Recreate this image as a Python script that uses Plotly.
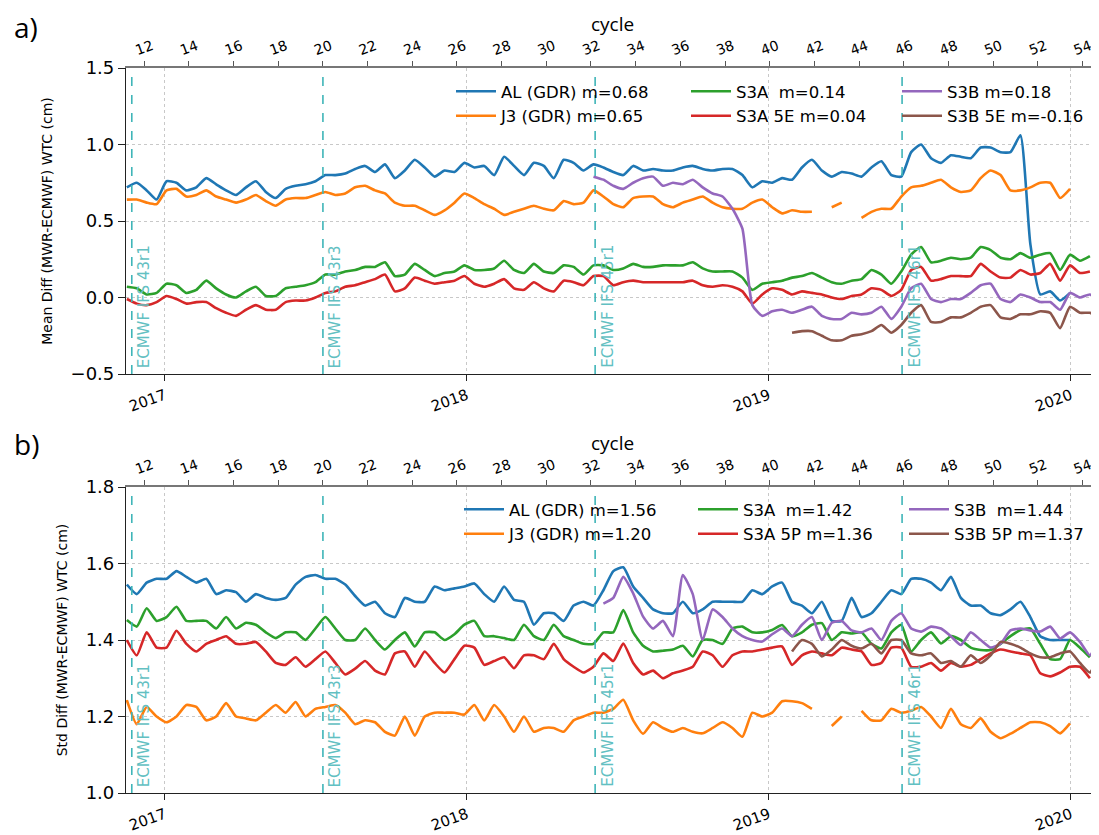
import pandas as pd
import plotly.graph_objects as go

# ---------------- data ----------------
dates = pd.date_range("2016-11-16", periods=99, freq="12D")
N = None

# Panel a: mean difference (cm)
al_mean = [0.72, 0.75, 0.70, 0.64, 0.76, 0.75, 0.70, 0.72, 0.78, 0.74,
           0.70, 0.67, 0.72, 0.76, 0.69, 0.65, 0.71, 0.73, 0.74, 0.76,
           0.80, 0.80, 0.81, 0.84, 0.86, 0.82, 0.87, 0.78, 0.83, 0.90,
           0.85, 0.79, 0.83, 0.82, 0.88, 0.85, 0.86, 0.80, 0.92, 0.86,
           0.80, 0.88, 0.86, 0.78, 0.90, 0.88, 0.83, 0.87, 0.85, 0.82,
           0.80, 0.86, 0.83, 0.84, 0.83, 0.83, 0.85, 0.86, 0.84, 0.83,
           0.84, 0.84, 0.80, 0.72, 0.76, 0.75, 0.78, 0.77, 0.85, 0.90,
           0.83, 0.79, 0.82, 0.81, 0.79, 0.85, 0.89, 0.80, 0.79, 0.95,
           1.00, 0.91, 0.88, 0.93, 0.92, 0.91, 0.98, 0.98, 0.95, 0.95,
           1.06, 0.35, 0.02, 0.04, -0.02, 0.03, N, N, N]
j3_mean = [0.64, 0.64, 0.62, 0.61, 0.70, 0.71, 0.66, 0.67, 0.70, 0.66,
           0.64, 0.62, 0.64, 0.67, 0.63, 0.60, 0.64, 0.65, 0.65, 0.67,
           0.69, 0.67, 0.68, 0.72, 0.73, 0.70, 0.68, 0.62, 0.60, 0.60,
           0.57, 0.54, 0.57, 0.62, 0.68, 0.65, 0.61, 0.58, 0.54, 0.56,
           0.58, 0.60, 0.58, 0.57, 0.63, 0.61, 0.62, 0.70, 0.66, 0.61,
           0.59, 0.65, 0.66, 0.66, 0.61, 0.59, 0.62, 0.64, 0.66, 0.62,
           0.59, 0.58, 0.58, 0.62, 0.64, 0.59, 0.55, 0.57, 0.56, 0.56,
           N, 0.59, 0.62, N, 0.52, 0.56, 0.58, 0.58, 0.66, 0.72,
           0.73, 0.75, 0.77, 0.72, 0.69, 0.70, 0.78, 0.83, 0.80, 0.70,
           0.70, 0.72, 0.75, 0.75, 0.65, 0.71, N, N, N]
s3a_mean = [0.07, 0.06, 0.02, 0.03, 0.09, 0.08, 0.03, 0.05, 0.11, 0.06,
            0.02, 0.00, 0.04, 0.07, 0.01, 0.01, 0.06, 0.07, 0.08, 0.10,
            0.15, 0.15, 0.17, 0.18, 0.20, 0.20, 0.23, 0.14, 0.15, 0.22,
            0.18, 0.14, 0.16, 0.17, 0.21, 0.18, 0.18, 0.19, 0.24, 0.18,
            0.16, 0.22, 0.17, 0.16, 0.21, 0.20, 0.15, 0.21, 0.21, 0.18,
            0.19, 0.22, 0.20, 0.20, 0.21, 0.21, 0.21, 0.23, 0.19, 0.17,
            0.17, 0.17, 0.13, 0.05, 0.09, 0.10, 0.11, 0.13, 0.14, 0.16,
            0.13, 0.10, 0.09, 0.11, 0.12, 0.18, 0.15, 0.09, 0.17, 0.28,
            0.33, 0.23, 0.24, 0.26, 0.25, 0.26, 0.33, 0.31, 0.26, 0.25,
            0.29, 0.26, 0.28, 0.29, 0.18, 0.28, 0.24, 0.27, N]
s3a5e_mean = [-0.01, -0.04, -0.05, -0.03, 0.01, -0.01, -0.04, -0.03, -0.03, -0.07,
              -0.10, -0.12, -0.08, -0.05, -0.08, -0.08, -0.03, -0.02, -0.02, 0.00,
              0.03, 0.04, 0.07, 0.08, 0.10, 0.12, 0.15, 0.04, 0.06, 0.13,
              0.11, 0.09, 0.10, 0.11, 0.14, 0.09, 0.07, 0.09, 0.12, 0.06,
              0.05, 0.10, 0.06, 0.04, 0.11, 0.10, 0.08, 0.14, 0.14, 0.08,
              0.10, 0.11, 0.10, 0.10, 0.10, 0.10, 0.10, 0.11, 0.08, 0.07,
              0.08, 0.07, 0.04, -0.04, 0.02, 0.06, 0.05, 0.02, 0.04, 0.03,
              0.02, 0.00, -0.01, 0.01, 0.02, 0.06, 0.05, 0.01, 0.05, 0.18,
              0.20, 0.11, 0.12, 0.14, 0.14, 0.14, 0.22, 0.17, 0.13, 0.13,
              0.18, 0.15, 0.16, 0.22, 0.11, 0.21, 0.16, 0.17, N]
s3b_mean = [N] * 47 + [0.79, 0.77, 0.73,
            0.71, 0.75, 0.78, 0.79, 0.73, 0.75, 0.74, 0.77, 0.72, 0.68,
            0.66, 0.58, 0.45, -0.05, -0.12, -0.09, -0.08, -0.10, -0.08, -0.06,
            -0.12, -0.14, -0.14, -0.10, -0.11, -0.10, -0.06, -0.14, -0.06, 0.06,
            0.09, -0.01, -0.03, -0.01, -0.01, 0.03, 0.08, 0.09, -0.01, -0.03,
            0.02, 0.00, -0.03, -0.03, -0.08, 0.03, 0.00, 0.02, -0.04]
s3b5e_mean = [N] * 67 + [-0.23, -0.22, -0.22,
              -0.25, -0.28, -0.28, -0.25, -0.24, -0.22, -0.18, -0.23, -0.18, -0.10,
              -0.05, -0.16, -0.16, -0.13, -0.13, -0.10, -0.06, -0.05, -0.13, -0.14,
              -0.11, -0.11, -0.09, -0.10, -0.20, -0.06, -0.10, -0.10, -0.14]

# Panel b: std difference (cm)
al_std = [1.545, 1.52, 1.55, 1.56, 1.56, 1.58, 1.565, 1.55, 1.56, 1.52,
          1.53, 1.525, 1.50, 1.52, 1.51, 1.505, 1.51, 1.545, 1.565, 1.57,
          1.56, 1.56, 1.545, 1.515, 1.49, 1.50, 1.47, 1.46, 1.51, 1.50,
          1.50, 1.54, 1.53, 1.535, 1.54, 1.548, 1.52, 1.50, 1.54, 1.505,
          1.50, 1.44, 1.47, 1.47, 1.45, 1.49, 1.50, 1.49, 1.53, 1.58,
          1.59, 1.54, 1.51, 1.48, 1.47, 1.47, 1.50, 1.47, 1.48, 1.50,
          1.50, 1.50, 1.50, 1.53, 1.52, 1.54, 1.55, 1.50, 1.49, 1.47,
          1.50, 1.45, 1.45, 1.51, 1.46, 1.47, 1.50, 1.53, 1.52, 1.56,
          1.56, 1.55, 1.53, 1.565, 1.51, 1.49, 1.49, 1.47, 1.465, 1.48,
          1.50, 1.46, 1.41, 1.40, 1.40, 1.40, N, N, N]
j3_std = [1.243, 1.18, 1.225, 1.20, 1.185, 1.20, 1.23, 1.225, 1.19, 1.20,
          1.235, 1.20, 1.195, 1.19, 1.21, 1.23, 1.21, 1.238, 1.20, 1.22,
          1.225, 1.23, 1.21, 1.18, 1.19, 1.185, 1.16, 1.15, 1.20, 1.15,
          1.20, 1.21, 1.21, 1.21, 1.205, 1.23, 1.19, 1.23, 1.20, 1.16,
          1.20, 1.16, 1.17, 1.17, 1.16, 1.19, 1.20, 1.21, 1.21, 1.22,
          1.244, 1.19, 1.155, 1.185, 1.17, 1.16, 1.17, 1.16, 1.156, 1.17,
          1.185, 1.17, 1.147, 1.21, 1.20, 1.21, 1.24, 1.24, 1.235, 1.22,
          N, 1.175, 1.20, N, 1.215, 1.19, 1.19, 1.22, 1.21, 1.215,
          1.225, 1.20, 1.17, 1.22, 1.18, 1.17, 1.195, 1.16, 1.143, 1.155,
          1.17, 1.185, 1.185, 1.175, 1.156, 1.182, N, N, N]
s3a_std = [1.452, 1.435, 1.483, 1.45, 1.46, 1.487, 1.45, 1.45, 1.45, 1.43,
           1.46, 1.43, 1.445, 1.44, 1.42, 1.405, 1.42, 1.42, 1.40, 1.43,
           1.46, 1.43, 1.40, 1.40, 1.43, 1.40, 1.375, 1.40, 1.42, 1.383,
           1.42, 1.42, 1.40, 1.415, 1.44, 1.45, 1.41, 1.41, 1.405, 1.40,
           1.44, 1.41, 1.40, 1.44, 1.41, 1.40, 1.39, 1.39, 1.42, 1.42,
           1.478, 1.42, 1.385, 1.37, 1.372, 1.375, 1.385, 1.357, 1.40, 1.40,
           1.39, 1.43, 1.435, 1.42, 1.42, 1.426, 1.439, 1.41, 1.42, 1.44,
           1.444, 1.40, 1.42, 1.417, 1.42, 1.39, 1.378, 1.42, 1.44, 1.37,
           1.40, 1.42, 1.391, 1.41, 1.40, 1.38, 1.374, 1.374, 1.39, 1.41,
           1.426, 1.43, 1.39, 1.35, 1.35, 1.40, 1.38, 1.355, N]
s3a5p_std = [1.40, 1.36, 1.42, 1.38, 1.38, 1.424, 1.39, 1.37, 1.39, 1.40,
             1.41, 1.39, 1.39, 1.395, 1.37, 1.34, 1.335, 1.355, 1.33, 1.35,
             1.37, 1.34, 1.31, 1.325, 1.345, 1.32, 1.31, 1.365, 1.37, 1.33,
             1.37, 1.34, 1.315, 1.35, 1.385, 1.38, 1.335, 1.345, 1.355, 1.326,
             1.36, 1.36, 1.35, 1.39, 1.35, 1.33, 1.315, 1.33, 1.365, 1.345,
             1.391, 1.34, 1.31, 1.32, 1.30, 1.313, 1.32, 1.33, 1.37, 1.36,
             1.33, 1.36, 1.37, 1.37, 1.375, 1.38, 1.383, 1.335, 1.36, 1.37,
             1.365, 1.36, 1.38, 1.375, 1.37, 1.335, 1.34, 1.38, 1.38, 1.33,
             1.33, 1.34, 1.32, 1.34, 1.33, 1.335, 1.35, 1.365, 1.375, 1.37,
             1.365, 1.36, 1.313, 1.305, 1.315, 1.33, 1.33, 1.30, N]
s3b_std = [N] * 48 + [1.495, 1.51,
           1.565, 1.522, 1.461, 1.43, 1.45, 1.41, 1.57, 1.52, 1.40, 1.48,
           1.46, 1.43, 1.41, 1.40, 1.396, 1.415, 1.43, 1.41, 1.44, 1.46,
           1.40, 1.445, 1.45, 1.425, 1.42, 1.43, 1.40, 1.45, 1.47, 1.43,
           1.422, 1.435, 1.43, 1.41, 1.387, 1.42, 1.40, 1.38, 1.39, 1.425,
           1.43, 1.425, 1.422, 1.435, 1.404, 1.42, 1.395, 1.36, 1.42]
s3b5p_std = [N] * 67 + [1.37, 1.40, 1.39,
             1.357, 1.375, 1.40, 1.385, 1.378, 1.39, 1.365, 1.40, 1.40, 1.365,
             1.36, 1.365, 1.34, 1.345, 1.33, 1.36, 1.34, 1.36, 1.395, 1.39,
             1.38, 1.365, 1.355, 1.355, 1.365, 1.37, 1.34, 1.315, 1.375]

names_a = ["AL (GDR) m=0.68", "J3 (GDR) m=0.65", "S3A  m=0.14",
           "S3A 5E m=0.04", "S3B m=0.18", "S3B 5E m=-0.16"]
names_b = ["AL (GDR) m=1.56", "J3 (GDR) m=1.20", "S3A  m=1.42",
           "S3A 5P m=1.36", "S3B  m=1.44", "S3B 5P m=1.37"]
series_a = [al_mean, j3_mean, s3a_mean, s3a5e_mean, s3b_mean, s3b5e_mean]
series_b = [al_std, j3_std, s3a_std, s3a5p_std, s3b_std, s3b5p_std]
colors = ["#1f77b4", "#ff7f0e", "#2ca02c", "#d62728", "#9467bd", "#8c564b"]

ifs_dates = ["2016-11-22", "2017-07-11", "2018-06-05", "2019-06-11"]
ifs_labels = ["ECMWF IFS 43r1", "ECMWF IFS 43r3", "ECMWF IFS 45r1", "ECMWF IFS 46r1"]

year_ticks = ["2017-01-01", "2018-01-01", "2019-01-01", "2020-01-01"]
year_labels = ["2017", "2018", "2019", "2020"]
cycle_ticks = list(range(12, 55, 2))
cycle_ref_number = 20
cycle_ref_date = "2017-07-11"
cycle_days = 27

x_start, x_end = "2016-11-15", "2020-02-04"

# ---------------- layout helpers ----------------
# the page body adds an 8 px offset; the figure is sized to fill the rest of the window
OFF = 8
W, H = 1099 - OFF, 835 - OFF
ML, MR, MT, MB = 126 - OFF, 0, 68 - OFF, 42


def px_x(px):  # page pixel -> paper coordinate
    return (px - OFF - ML) / (W - ML - MR)


def px_y(py):
    return (H - MB - (py - OFF)) / (H - MT - MB)


def to_cycle(d):
    return cycle_ref_number + (pd.Timestamp(d) - pd.Timestamp(cycle_ref_date)).days / cycle_days


c0, c1 = to_cycle(x_start), to_cycle(x_end)

fig = go.Figure()

legend_ids_a = ["legend", "legend", "legend2", "legend2", "legend3", "legend3"]
legend_ids_b = ["legend4", "legend4", "legend5", "legend5", "legend6", "legend6"]
LINE = dict(width=2.6, shape="spline", smoothing=0.5)

for vals, name, col, lg in zip(series_a, names_a, colors, legend_ids_a):
    fig.add_trace(go.Scatter(x=dates, y=vals, name=name, mode="lines",
                             line=dict(LINE, color=col), connectgaps=False,
                             xaxis="x", yaxis="y", legend=lg))
for vals, name, col, lg in zip(series_b, names_b, colors, legend_ids_b):
    fig.add_trace(go.Scatter(x=dates, y=vals, name=name, mode="lines",
                             line=dict(LINE, color=col), connectgaps=False,
                             xaxis="x2", yaxis="y2", legend=lg))

# dummy traces to activate top cycle axes
fig.add_trace(go.Scatter(x=[c0, c1], y=[0, 0], mode="none", showlegend=False,
                         hoverinfo="skip", xaxis="x3", yaxis="y"))
fig.add_trace(go.Scatter(x=[c0, c1], y=[1.2, 1.2], mode="none", showlegend=False,
                         hoverinfo="skip", xaxis="x4", yaxis="y2"))

TEAL = "#3fb5b8"
TEAL_TXT = "#62c0c2"
for xr, yr in [("x", "y domain"), ("x2", "y2 domain")]:
    for d, lab in zip(ifs_dates, ifs_labels):
        fig.add_shape(type="line", xref=xr, yref=yr, x0=d, x1=d, y0=0, y1=1,
                      line=dict(color=TEAL, width=1.6, dash="dash"), layer="above")
        fig.add_annotation(x=d, y=0, xref=xr, yref=yr, text=lab, textangle=-90,
                           xanchor="left", yanchor="bottom", xshift=1, yshift=4,
                           showarrow=False, font=dict(size=15, color=TEAL_TXT))

fig.add_annotation(x=px_x(12), y=px_y(27), xref="paper", yref="paper", text="a)",
                   showarrow=False, xanchor="left", yanchor="middle",
                   font=dict(size=28, family="Open Sans", color="#000"))
fig.add_annotation(x=px_x(12), y=px_y(444), xref="paper", yref="paper", text="b)",
                   showarrow=False, xanchor="left", yanchor="middle",
                   font=dict(size=28, family="Open Sans", color="#000"))

ya_dom = [px_y(374), 1.0]
yb_dom = [0.0, px_y(487)]

AX = "#222"
GRID = "#c8c8c8"
xbase = dict(type="date", range=[x_start, x_end], tickvals=year_ticks, ticktext=year_labels,
             tickangle=-20, tickfont=dict(size=15, color="#000"), ticks="outside",
             ticklen=6, tickcolor=AX, showline=True, linecolor=AX, linewidth=1.2,
             showgrid=True, gridcolor=GRID, griddash="dot", gridwidth=1, zeroline=False)
xtop = dict(type="linear", range=[c0, c1], tickvals=cycle_ticks, side="top",
            tickangle=-20, tickfont=dict(size=14, color="#000"), ticks="outside",
            ticklen=5, tickcolor="#555", showline=True, linecolor="#777", linewidth=1.5,
            showgrid=False, zeroline=False, ticklabelshift=-9,
            title=dict(text="cycle", font=dict(size=19, family="Open Sans", color="#000"),
                       standoff=0))
ybase = dict(tickfont=dict(size=18, color="#000"), ticks="outside", ticklen=7,
             tickcolor=AX, showline=True, linecolor=AX, linewidth=1.2,
             showgrid=True, gridcolor=GRID, griddash="dot", gridwidth=1,
             zeroline=False, tickformat=".1f")

fig.update_layout(
    width=W, height=H,
    margin=dict(l=ML, r=MR, t=MT, b=MB),
    paper_bgcolor="white", plot_bgcolor="white",
    font=dict(family="DejaVu Sans", color="#000"),
    showlegend=True,
    xaxis=dict(xbase, anchor="y"),
    xaxis2=dict(xbase, anchor="y2"),
    xaxis3=dict(xtop, overlaying="x", anchor="y"),
    xaxis4=dict(xtop, overlaying="x2", anchor="y2"),
    yaxis=dict(ybase, domain=ya_dom, range=[-0.5, 1.5], dtick=0.5, anchor="x",
               title=dict(text="Mean Diff (MWR-ECMWF) WTC (cm)", font=dict(size=14),
                          standoff=14)),
    yaxis2=dict(ybase, domain=yb_dom, range=[1.0, 1.8], dtick=0.2, anchor="x2",
                title=dict(text="Std Diff (MWR-ECMWF) WTC (cm)", font=dict(size=14),
                           standoff=14)),
)

leg_common = dict(orientation="v", xanchor="left", yanchor="top",
                  bgcolor="rgba(0,0,0,0)", borderwidth=0,
                  font=dict(size=16.5, color="#000"), tracegroupgap=0, itemwidth=40)
fig.update_layout(
    legend=dict(leg_common, x=px_x(451), y=px_y(74)),
    legend2=dict(leg_common, x=px_x(686), y=px_y(74)),
    legend3=dict(leg_common, x=px_x(897), y=px_y(74)),
    legend4=dict(leg_common, x=px_x(459), y=px_y(492)),
    legend5=dict(leg_common, x=px_x(693), y=px_y(492)),
    legend6=dict(leg_common, x=px_x(904), y=px_y(492)),
)

fig.write_html("out.html")
